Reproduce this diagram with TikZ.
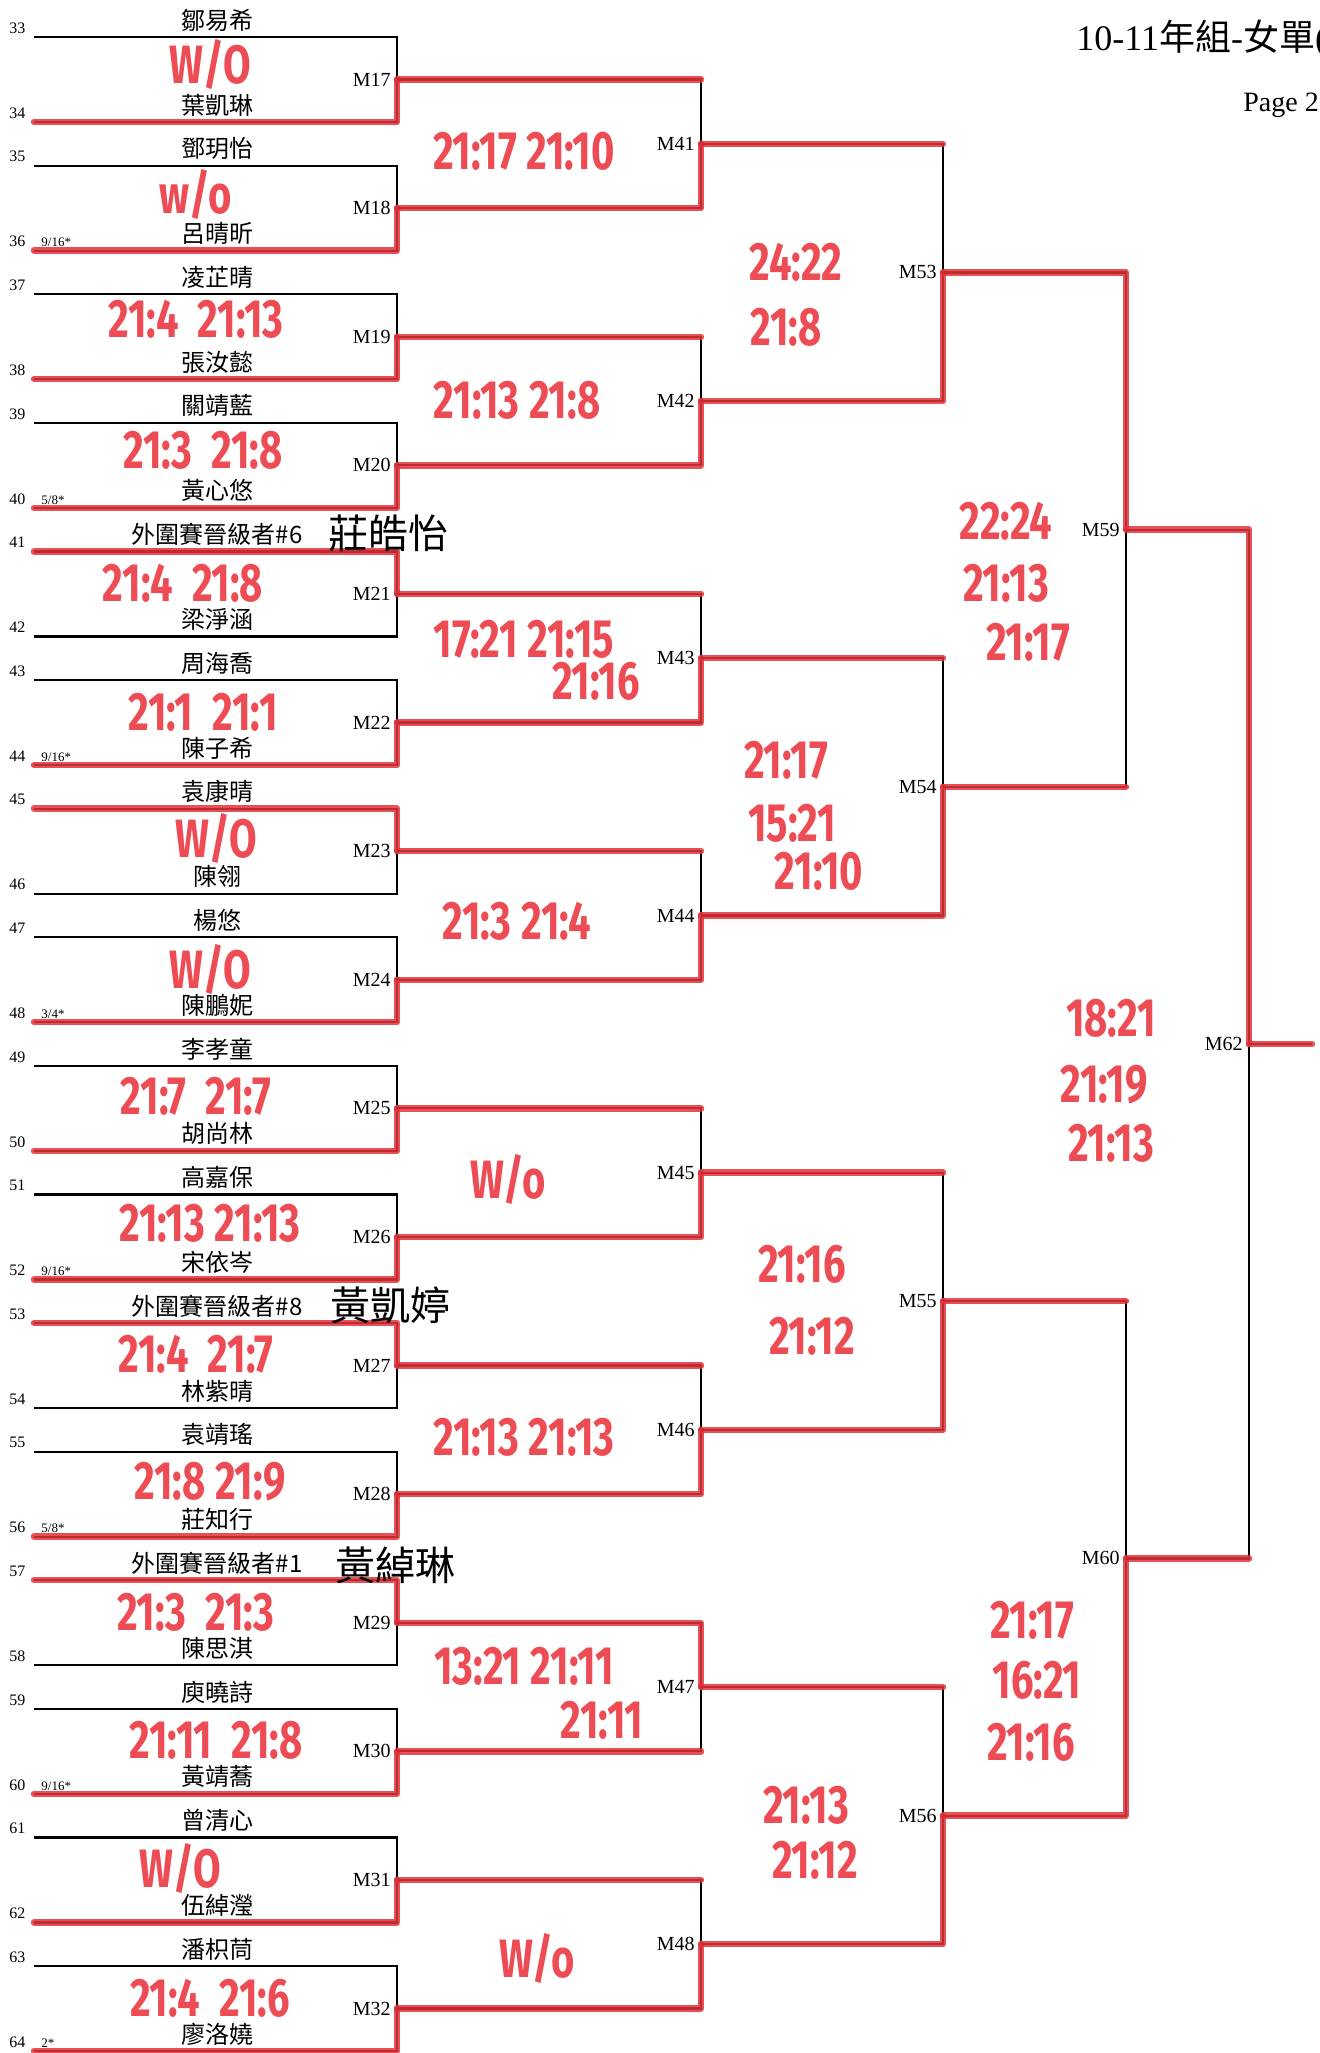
\documentclass[tikz,border=0pt]{standalone}
\usepackage{fontspec}
\setmainfont{Liberation Serif}
\newfontfamily\cjk{Noto Sans CJK TC}
\newfontfamily\handfont{Fira Sans}[FakeStretch=0.74]
\usetikzlibrary{positioning}
\definecolor{marker}{RGB}{226,50,58}
\definecolor{ink}{RGB}{238,76,84}

\tikzset{
  bline/.style={draw=black, line width=1.1pt},
  rline/.style={draw=marker, line width=3.2pt, line cap=round, line join=round, draw opacity=0.85},
  pname/.style={font=\cjk\fontsize{12}{12}\selectfont, inner sep=0pt},
  seat/.style={font=\fontsize{8}{8}\selectfont, anchor=west, inner sep=0pt},
  seed/.style={font=\fontsize{6.5}{6.5}\selectfont, anchor=west, inner sep=0pt},
  mlabel/.style={font=\fontsize{10}{10}\selectfont, inner sep=0pt},
  score/.style={text=ink, font=\handfont\bfseries\fontsize{27}{27}\selectfont, inner sep=0pt},
  scrawl/.style={font=\cjk\fontsize{20}{20}\selectfont, inner sep=0pt},
}

\begin{document}
\begin{tikzpicture}[x=0.5pt, y=-0.5pt]
\useasboundingbox[fill=white] (0,0) rectangle (1319,2053);

% header
\node[anchor=base west, inner sep=0pt, font=\fontsize{18}{18}\selectfont] (title) at (1076,50) {10-11{\cjk 年組}-{\cjk 女單}(};
\node[anchor=base west, inner sep=0pt, font=\fontsize{14}{14}\selectfont] (page) at (1243,111) {Page 2};

% first round: seats 33-64, M17-M32
\foreach \k/\w/\na/\nb in {0/34/鄒易希/葉凱琳, 1/36/鄧玥怡/呂晴昕, 2/38/凌芷晴/張汝懿, 3/40/關靖藍/黃心悠,
    4/41/外圍賽晉級者\#6/梁淨涵, 5/44/周海喬/陳子希, 6/45/袁康晴/陳翎, 7/48/楊悠/陳鵬妮,
    8/50/李孝童/胡尚林, 9/52/高嘉保/宋依岑, 10/53/外圍賽晉級者\#8/林紫晴, 11/56/袁靖瑤/莊知行,
    12/57/外圍賽晉級者\#1/陳思淇, 13/60/庾曉詩/黃靖蕎, 14/62/曾清心/伍綽瀅, 15/64/潘枳茼/廖洛嬈}{
  \pgfmathsetmacro\yt{37+128.6*\k}
  \pgfmathsetmacro\yb{\yt+85}
  \pgfmathsetmacro\ym{\yt+42.5}
  \pgfmathtruncatemacro\pa{33+2*\k}
  \pgfmathtruncatemacro\pb{34+2*\k}
  \pgfmathtruncatemacro\mm{17+\k}
  \coordinate (p\pa) at (34,\yt);
  \coordinate (p\pb) at (34,\yb);
  \coordinate (m\mm) at (397,\ym);
  \draw[bline] (p\pa) -| (m\mm) |- (p\pb);
  \draw[rline] (p\w) -| (m\mm);
  \node[seat] (s\pa) at (9,\yt-9) {\pa};
  \node[seat] (s\pb) at (9,\yb-9) {\pb};
  \node[pname] (n\pa) at (217,\yt-17) {\na};
  \node[pname] (n\pb) at (217,\yb-17) {\nb};
  \node[mlabel, left=3pt of m\mm] (l\mm) {M\mm};
}

% seeding marks
\foreach \p/\s in {36/{9/16*}, 40/{5/8*}, 44/{9/16*}, 48/{3/4*}, 52/{9/16*}, 56/{5/8*}, 60/{9/16*}, 64/{2*}}
  \node[seed] (d\p) at ([shift={(7,-8)}]p\p) {\s};

% later rounds: match/winner/loser/x/y
\foreach \mm/\win/\los/\x/\y in {41/18/17/701/143.8, 42/20/19/701/401, 43/22/21/701/658.2, 44/24/23/701/915.4,
    45/26/25/701/1172.6, 46/28/27/701/1429.8, 47/29/30/701/1687, 48/32/31/701/1944.2,
    53/42/41/943/272.4, 54/44/43/943/786.8, 55/46/45/943/1301.2, 56/48/47/943/1815.6,
    59/53/54/1126/529.6, 60/56/55/1126/1558.4, 62/59/60/1249/1044}{
  \coordinate (m\mm) at (\x,\y);
  \draw[bline] (m\win) -| (m\mm);
  \draw[bline] (m\los) -| (m\mm);
  \draw[rline] (m\win) -| (m\mm);
  \draw[rline] (m\los) -- (m\los -| m\mm);
  \node[mlabel, left=3pt of m\mm] (l\mm) {M\mm};
}
\coordinate (champ) at (1312,1044);
\draw[bline] (m62) -- (champ);
\draw[rline] (m62) -- (champ);

% handwritten scores
\foreach \x/\y/\t [count=\i] in {210/64/{W/O}, 196/194/{w/o}, 196/319/21:4~~21:13, 203/450/21:3~~21:8,
    183/583/21:4~~21:8, 203/712/21:1~~21:1, 216/838/{W/O}, 210/969/{W/O},
    196/1096/21:7~~21:7, 210/1223/21:13~21:13, 196/1354/21:4~~21:7, 210/1482/21:8~21:9,
    196/1612/21:3~~21:3, 216/1740/21:11~~21:8, 180/1868/{W/O}, 210/1998/21:4~~21:6,
    524/151/21:17~21:10, 517/400/21:13~21:8, 524/639/17:21~21:15, 596/681/21:16,
    517/921/21:3~21:4, 508/1179/{W/o}, 524/1437/21:13~21:13, 524/1666/13:21~21:11,
    602/1720/21:11, 537/1958/{W/o},
    796/262/24:22, 786/327/21:8, 786/760/21:17, 792/823/15:21, 819/871/21:10,
    802/1264/21:16, 812/1336/21:12, 806/1805/21:13, 815/1860/21:12,
    1006/521/22:24, 1006/583/21:13, 1028/642/21:17,
    1032/1620/21:17, 1037/1680/16:21, 1031/1742/21:16,
    1111/1018/18:21, 1104/1085/21:19, 1111/1143/21:13}
  \node[score] (sc\i) at (\x,\y) {\t};

% handwritten names of qualifiers
\node[scrawl] (h41) at (388,533) {莊皓怡};
\node[scrawl] (h53) at (390,1305) {黃凱婷};
\node[scrawl] (h57) at (395,1565) {黃綽琳};
\end{tikzpicture}
\end{document}
